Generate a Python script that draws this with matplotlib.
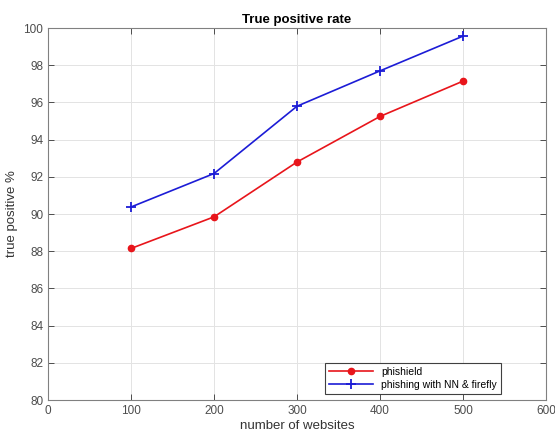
import numpy as np
import matplotlib.pyplot as plt

# data
websites = [100, 200, 300, 400, 500]
phishield = [88.15, 89.85, 92.8, 95.25, 97.15]
nn_firefly = [90.38, 92.18, 95.8, 97.7, 99.57]

x_ticks = [0, 100, 200, 300, 400, 500, 600]
y_ticks = [80, 82, 84, 86, 88, 90, 92, 94, 96, 98, 100]

plt.rcParams['font.family'] = ['Liberation Sans', 'DejaVu Sans']

fig = plt.figure(figsize=(5.55, 4.32), dpi=100)
ax = fig.add_axes([0.0865, 0.074, 0.8975, 0.861])

ax.plot(websites, phishield, '-o', color='#e8151b', markersize=4.5, linewidth=1.2,
        label='phishield')
ax.plot(websites, nn_firefly, '-+', color='#1c1cd6', markersize=7, markeredgewidth=1.3,
        linewidth=1.2, label='phishing with NN & firefly')

ax.set_xlim(0, 600)
ax.set_ylim(80, 100)
ax.set_xticks(x_ticks)
ax.set_yticks(y_ticks)
ax.grid(True, color='#e3e3e3', linewidth=0.7)
ax.set_axisbelow(True)
ax.tick_params(direction='in', top=True, right=True, labelsize=8.5, colors='#4d4d4d',
               length=4, width=0.7)
for s in ax.spines.values():
    s.set_color('#808080')
    s.set_linewidth(0.8)

ax.set_title('True positive rate', fontsize=9.5, fontweight='bold', pad=4)
ax.set_xlabel('number of websites', fontsize=9.5, color='#333333', labelpad=2)
ax.set_ylabel('true positive %', fontsize=9.5, color='#333333', labelpad=4)

leg = ax.legend(loc='lower right', bbox_to_anchor=(0.91, 0.016), fontsize=7.5,
                fancybox=False, framealpha=1, edgecolor='#404040',
                borderpad=0.4, labelspacing=0.3, handlelength=4.2, borderaxespad=0)
leg.get_frame().set_linewidth(0.8)

fig.savefig('out.png', dpi=100)
